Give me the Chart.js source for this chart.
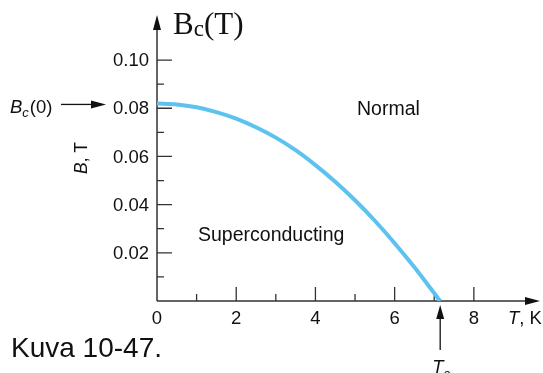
<!DOCTYPE html>
<html>
<head>
<meta charset="utf-8">
<script src="https://cdn.jsdelivr.net/npm/chart.js@4/dist/chart.umd.min.js"></script>
<style>
html,body{margin:0;padding:0;background:#fff;}
#wrap{width:543px;height:373px;position:relative;}
</style>
</head>
<body>
<div id="wrap"><canvas id="c" width="543" height="373"></canvas></div>
<script>
// Data
const tempK  = [0, 0.5, 1, 1.5, 2, 2.5, 3, 3.5, 4, 4.5, 5, 5.5, 6, 6.5, 7, 7.15];
const fieldT = [0.082, 0.0816, 0.0804, 0.0784, 0.0757, 0.0721, 0.0678, 0.0626, 0.0564, 0.0495, 0.0418, 0.0333, 0.0240, 0.0140, 0.0032, 0];
const xMajorTicks = [0, 2, 4, 6, 8];
const xTickLabels = ['0', '2', '4', '6', '8'];
const xMinorTicks = [1, 3, 5, 7];
const yMajorTicks = [0.02, 0.04, 0.06, 0.08, 0.10];
const yTickLabels = ['0.02', '0.04', '0.06', '0.08', '0.10'];
const yMinorTicks = [0.01, 0.03, 0.05, 0.07, 0.09];
const criticalT = 7.15;
const criticalB0 = 0.082;

const SANS = '"Liberation Sans", Arial, Helvetica, sans-serif';
const SERIF = '"Liberation Serif", "Times New Roman", serif';
const AXIS = '#333333';

const axesPlugin = {
  id: 'customAxes',
  beforeDatasetsDraw(chart) {
    const ctx = chart.ctx;
    const xs = chart.scales.x, ys = chart.scales.y;
    const x0 = xs.getPixelForValue(0), y0 = ys.getPixelForValue(0);
    const xEnd = xs.right, yTop = ys.top;
    ctx.save();
    ctx.strokeStyle = AXIS; ctx.fillStyle = AXIS; ctx.lineWidth = 1.5;
    ctx.beginPath();
    ctx.moveTo(x0, y0); ctx.lineTo(x0, yTop + 6);
    ctx.moveTo(x0, y0); ctx.lineTo(xEnd - 6, y0);
    ctx.stroke();
    ctx.fillStyle = '#111';
    ctx.beginPath();
    ctx.moveTo(x0, yTop); ctx.lineTo(x0 - 4, yTop + 15); ctx.lineTo(x0 + 4, yTop + 15); ctx.closePath(); ctx.fill();
    ctx.beginPath();
    ctx.moveTo(xEnd, y0); ctx.lineTo(xEnd - 15, y0 - 4); ctx.lineTo(xEnd - 15, y0 + 4); ctx.closePath(); ctx.fill();
    ctx.lineWidth = 1.3;
    ctx.beginPath();
    yMajorTicks.forEach(v => { const p = ys.getPixelForValue(v); ctx.moveTo(x0, p); ctx.lineTo(x0 + 15, p); });
    yMinorTicks.forEach(v => { const p = ys.getPixelForValue(v); ctx.moveTo(x0, p); ctx.lineTo(x0 + 7, p); });
    xMajorTicks.forEach(v => { if (v === 0) return; const p = xs.getPixelForValue(v); ctx.moveTo(p, y0); ctx.lineTo(p, y0 - 14); });
    xMinorTicks.forEach(v => { const p = xs.getPixelForValue(v); ctx.moveTo(p, y0); ctx.lineTo(p, y0 - 7); });
    ctx.stroke();
    ctx.fillStyle = '#111';
    ctx.font = '18.5px ' + SANS;
    ctx.textAlign = 'right'; ctx.textBaseline = 'middle';
    yMajorTicks.forEach((v, i) => ctx.fillText(yTickLabels[i], x0 - 8, ys.getPixelForValue(v) + 1));
    ctx.textAlign = 'center'; ctx.textBaseline = 'alphabetic';
    xMajorTicks.forEach((v, i) => ctx.fillText(xTickLabels[i], xs.getPixelForValue(v), y0 + 23));
    ctx.restore();
  },
  afterDraw(chart) {
    const ctx = chart.ctx;
    const xs = chart.scales.x, ys = chart.scales.y;
    const x0 = xs.getPixelForValue(0), y0 = ys.getPixelForValue(0);
    ctx.save();
    ctx.fillStyle = '#111'; ctx.strokeStyle = '#111';
    ctx.textAlign = 'left'; ctx.textBaseline = 'alphabetic';
    ctx.font = '31px ' + SERIF;
    ctx.fillText('B', 173, 34);
    let w = ctx.measureText('B').width;
    ctx.font = '23px ' + SERIF;
    ctx.fillText('c', 173 + w, 36);
    let w2 = ctx.measureText('c').width;
    ctx.font = '31px ' + SERIF;
    ctx.fillText('(T)', 173 + w + w2, 34);
    ctx.font = '19.5px ' + SANS;
    ctx.fillText('Normal', 357, 115);
    ctx.fillText('Superconducting', 198, 241);
    ctx.font = 'italic 18.5px ' + SANS;
    ctx.fillText('B', 10, 113);
    w = ctx.measureText('B').width;
    ctx.font = 'italic 13px ' + SANS;
    ctx.fillText('c', 10 + w, 117);
    w2 = ctx.measureText('c').width;
    ctx.font = '18.5px ' + SANS;
    ctx.fillText('(0)', 10 + w + w2 + 1, 113);
    const ay = ys.getPixelForValue(criticalB0) + 1;
    ctx.lineWidth = 1.3;
    ctx.beginPath(); ctx.moveTo(61, ay); ctx.lineTo(93, ay); ctx.stroke();
    ctx.beginPath(); ctx.moveTo(106, ay); ctx.lineTo(91, ay - 4); ctx.lineTo(91, ay + 4); ctx.closePath(); ctx.fill();
    ctx.save();
    ctx.translate(87, 158);
    ctx.rotate(-Math.PI / 2);
    ctx.textAlign = 'left';
    ctx.font = 'italic 17.5px ' + SANS;
    const bw = ctx.measureText('B').width;
    ctx.font = '17.5px ' + SANS;
    const rw = ctx.measureText(', T').width;
    const start = -(bw + rw) / 2;
    ctx.font = 'italic 17.5px ' + SANS;
    ctx.fillText('B', start, 0);
    ctx.font = '17.5px ' + SANS;
    ctx.fillText(', T', start + bw, 0);
    ctx.restore();
    ctx.font = 'italic 18.5px ' + SANS;
    ctx.fillText('T', 508, y0 + 23);
    w = ctx.measureText('T').width;
    ctx.font = '18.5px ' + SANS;
    ctx.fillText(', K', 508 + w, y0 + 23);
    const tx = xs.getPixelForValue(criticalT);
    ctx.beginPath(); ctx.moveTo(tx, y0 + 16); ctx.lineTo(tx, 350); ctx.stroke();
    ctx.beginPath(); ctx.moveTo(tx, y0 + 4); ctx.lineTo(tx - 4, y0 + 18); ctx.lineTo(tx + 4, y0 + 18); ctx.closePath(); ctx.fill();
    ctx.font = 'italic 18.5px ' + SANS;
    ctx.fillText('T', tx - 8, 373);
    w = ctx.measureText('T').width;
    ctx.font = 'italic 13px ' + SANS;
    ctx.fillText('c', tx - 8 + w, 378);
    ctx.font = '28px ' + SANS;
    ctx.fillText('Kuva 10-47.', 11, 357);
    ctx.restore();
  }
};

new Chart(document.getElementById('c'), {
  type: 'line',
  data: {
    datasets: [{
      data: tempK.map((t, i) => ({ x: t, y: fieldT[i] })),
      borderColor: '#5ec2f0',
      borderWidth: 4,
      pointRadius: 0,
      fill: false,
      cubicInterpolationMode: 'monotone',
      borderCapStyle: 'butt'
    }]
  },
  options: {
    responsive: false,
    animation: false,
    devicePixelRatio: 1,
    layout: { padding: { left: 157, right: 3, top: 15, bottom: 72 } },
    plugins: { legend: { display: false }, tooltip: { enabled: false }, title: { display: false } },
    scales: {
      x: { type: 'linear', min: 0, max: 9.67, display: false },
      y: { type: 'linear', min: 0, max: 0.1187, display: false }
    }
  },
  plugins: [axesPlugin]
});
</script>
</body>
</html>
